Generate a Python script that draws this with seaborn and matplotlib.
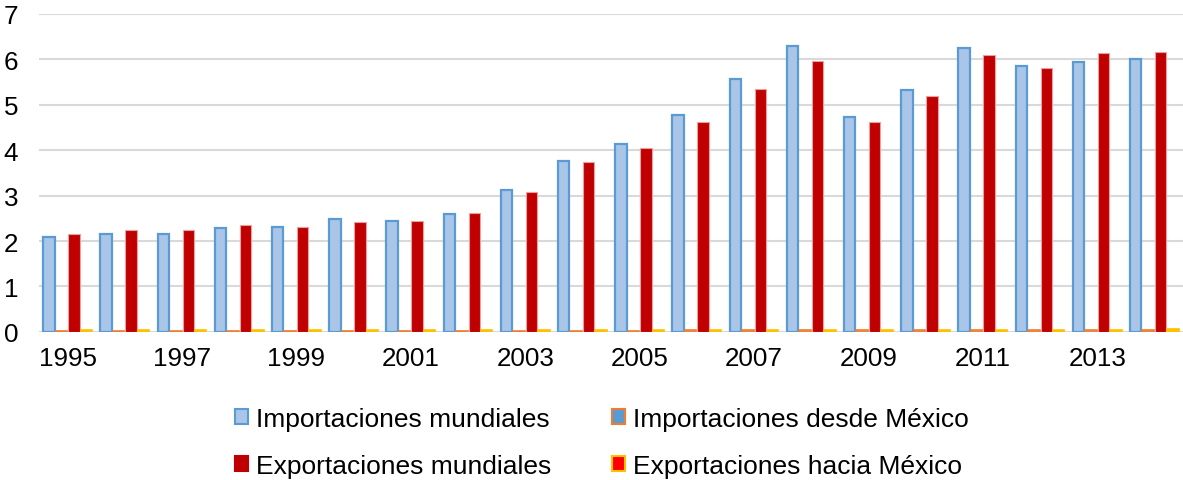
import numpy as np
import pandas as pd
import matplotlib
matplotlib.use("Agg")
import matplotlib.pyplot as plt
import seaborn as sns
from matplotlib.patches import Patch

years = [str(y) for y in range(1995, 2015)]
imp_mundiales = [2.09, 2.16, 2.16, 2.29, 2.31, 2.49, 2.44, 2.60, 3.13, 3.77,
                 4.14, 4.78, 5.57, 6.30, 4.74, 5.33, 6.26, 5.85, 5.94, 6.00]
imp_mexico = [0.02, 0.02, 0.02, 0.02, 0.02, 0.02, 0.02, 0.02, 0.02, 0.02,
              0.02, 0.03, 0.03, 0.03, 0.03, 0.03, 0.03, 0.03, 0.03, 0.03]
exp_mundiales = [2.16, 2.25, 2.24, 2.36, 2.31, 2.42, 2.44, 2.62, 3.08, 3.74,
                 4.05, 4.63, 5.35, 5.97, 4.63, 5.20, 6.10, 5.81, 6.13, 6.16]
exp_mexico = [0.03, 0.03, 0.03, 0.03, 0.03, 0.03, 0.03, 0.03, 0.03, 0.03,
              0.04, 0.04, 0.04, 0.05, 0.04, 0.05, 0.05, 0.05, 0.05, 0.06]
series = ["Importaciones mundiales", "Importaciones desde México",
          "Exportaciones mundiales", "Exportaciones hacia México"]

df = pd.DataFrame({
    "year": years * 4,
    "serie": sum([[s] * len(years) for s in series], []),
    "value": imp_mundiales + imp_mexico + exp_mundiales + exp_mexico,
})

sns.set_theme(style="white")
plt.rcParams["font.family"] = ["Liberation Sans", "DejaVu Sans"]
plt.rcParams["text.color"] = "black"

fills = ["#a9c5e8", "#f4b183", "#c00000", "#ffc000"]
edges = ["#5b9bd5", "#ed7d31", "#e8a0a0", "#ffc000"]
lws = [1.6, 1.2, 0.8, 1.2]

fig = plt.figure(figsize=(11.83, 4.81), dpi=100)
ax = fig.add_axes([0.033, 0.308, 0.967, 0.661])

sns.barplot(data=df, x="year", y="value", hue="serie", hue_order=series,
            palette=fills, width=0.87, gap=0.08, ax=ax, legend=False,
            saturation=1, zorder=3)
for cont, ec, lw in zip(ax.containers, edges, lws):
    for p in cont:
        p.set_edgecolor(ec)
        p.set_linewidth(lw)

ax.set_ylim(0, 7)
ax.set_xlim(-0.5, len(years) - 0.5)
ax.set_yticks(range(0, 8))
ax.yaxis.grid(True, color="#d9d9d9", linewidth=1.5, zorder=0)
ax.axhline(0, color="#d9d9d9", linewidth=2, zorder=2)
for s in ax.spines.values():
    s.set_visible(False)
ax.set_xlabel("")
ax.set_ylabel("")
ax.set_xticks(range(len(years)))
ax.set_xticklabels([y if i % 2 == 0 else "" for i, y in enumerate(years)])
ax.tick_params(axis="y", labelsize=18.7, length=0, pad=15, colors="#000000")
ax.tick_params(axis="x", labelsize=18.7, length=0, pad=10, colors="#000000")

handles = [
    Patch(facecolor="#a9c5e8", edgecolor="#5b9bd5", linewidth=1.5),
    Patch(facecolor="#c00000", edgecolor="#c00000", linewidth=1.5),
    Patch(facecolor="#5b9bd5", edgecolor="#ed7d31", linewidth=1.5),
    Patch(facecolor="#ff0000", edgecolor="#ffc000", linewidth=1.5),
]
labels = [series[0], series[2], series[1], series[3]]
fig.legend(handles, labels, loc="upper center", bbox_to_anchor=(0.509, 0.152),
           ncol=2, frameon=False, fontsize=19, handlelength=0.5, handleheight=0.5,
           handletextpad=0.3, columnspacing=2.3, labelspacing=0.88,
           borderaxespad=0, borderpad=0, labelcolor="black")

fig.savefig("out.png", dpi=100)
